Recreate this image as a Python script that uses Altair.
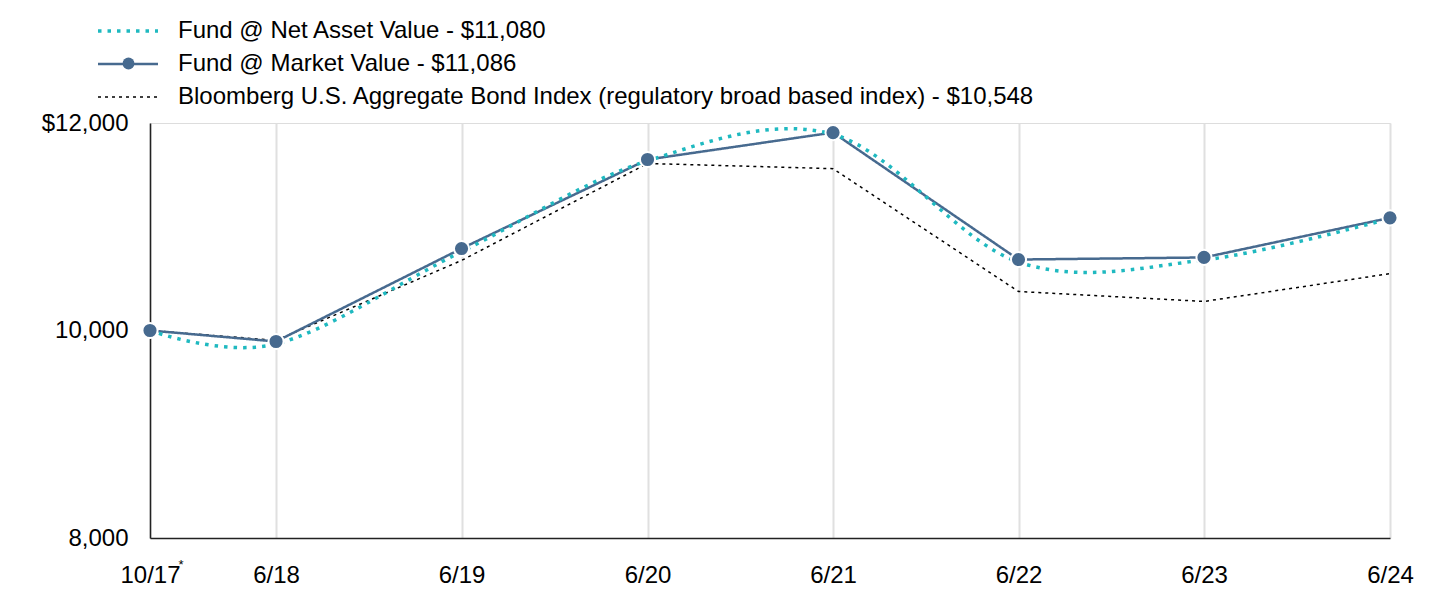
import altair as alt
import pandas as pd

dates = ["2017-10-25", "2018-06-30", "2019-06-30", "2020-06-30",
         "2021-06-30", "2022-06-30", "2023-06-30", "2024-06-30"]
nav = [10000, 9870, 10760, 11635, 11890, 10660, 10680, 11080]
mkt = [10000, 9894, 10790, 11648, 11908, 10684, 10704, 11086]
idx = [10000, 9905, 10675, 11610, 11560, 10376, 10280, 10548]

NAV = "Fund @ Net Asset Value - $11,080"
MKT = "Fund @ Market Value - $11,086"
IDX = "Bloomberg U.S. Aggregate Bond Index (regulatory broad based index) - $10,548"
series_names = [NAV, MKT, IDX]
series_colors = ["#1fb9c0", "#476a8f", "#000000"]
series_dash = [[3.5, 6], [1, 0], [3, 4]]
series_width = [3.5, 1.5, 1.5]

rows = []
for name, vals in [(NAV, nav), (MKT, mkt), (IDX, idx)]:
    for d, v in zip(dates, vals):
        rows.append({"date": d, "value": v, "series": name, "mk": "m"})
df = pd.DataFrame(rows)

FONT = "Liberation Sans"
FS = 24

x_enc = alt.X("date:T",
              scale=alt.Scale(domain=[dates[0], dates[-1]], nice=False, padding=0),
              axis=alt.Axis(values=dates, title=None, labelExpr="timeFormat(datum.value, '%-m/%y')",
                            grid=True, gridColor="#e0e0e0", gridWidth=2, ticks=False,
                            labelFlush=False, labelOverlap=False,
                            domainColor="#222222", domainWidth=1.5, labelFontSize=FS,
                            labelPadding=25, labelColor="#000000", labelFont=FONT))
y_enc = alt.Y("value:Q",
              scale=alt.Scale(domain=[8000, 12000], nice=False, zero=False),
              axis=alt.Axis(values=[8000, 10000, 12000], title=None, grid=False, ticks=False,
                            labelExpr="datum.value == 12000 ? '$12,000' : format(datum.value, ',')",
                            domainColor="#222222", domainWidth=1.5, labelFontSize=FS,
                            labelPadding=22, labelColor="#000000", labelFont=FONT))

legend = alt.Legend(
    title=None, orient="none", legendX=-39, legendY=-109, symbolType="M-2,0H2",
    symbolSize=900, labelFontSize=FS, labelColor="#000000", labelFont=FONT,
    labelOffset=33, rowPadding=4.5, padding=0, labelLimit=1200)

color_enc = alt.Color("series:N", scale=alt.Scale(domain=series_names, range=series_colors),
                      legend=legend)
dash_enc = alt.StrokeDash("series:N", scale=alt.Scale(domain=series_names, range=series_dash),
                          legend=legend)
width_enc = alt.StrokeWidth("series:N", scale=alt.Scale(domain=series_names, range=series_width),
                            legend=legend)

base = alt.Chart(df)

def line(name, **kw):
    return base.transform_filter(alt.datum.series == name).mark_line(**kw).encode(
        x=x_enc, y=y_enc, color=color_enc, strokeDash=dash_enc, strokeWidth=width_enc)

idx_line = line(IDX)
mkt_line = line(MKT)
nav_line = line(NAV, interpolate="cardinal")

mkt_pts = base.transform_filter(alt.datum.series == MKT).mark_point(
    size=230, opacity=1, filled=True, fill="#476a8f", stroke="#ffffff", strokeWidth=2).encode(
    x=x_enc, y=y_enc,
    shape=alt.Shape("mk:N", scale=alt.Scale(domain=["m"], range=["circle"]),
                    legend=alt.Legend(title=None, orient="none", legendX=-28, legendY=-66,
                                      symbolSize=140, symbolFillColor="#476a8f",
                                      symbolStrokeColor="#476a8f", symbolStrokeWidth=1,
                                      labelFontSize=1, labelOpacity=0, padding=0, zindex=1)))

star_df = pd.DataFrame({"date": [dates[0]], "value": [8000], "txt": ["*"], "mk": ["m"]})
star = alt.Chart(star_df).mark_text(fontSize=13, font=FONT, color="#000000", dx=31, dy=27,
                                   align="center", baseline="middle").encode(
    x=alt.X("date:T"), y=alt.Y("value:Q"), text="txt:N",
    opacity=alt.Opacity("mk:N", scale=alt.Scale(domain=["m"], range=[1]),
                        legend=alt.Legend(title=None, orient="none", legendX=-23.3, legendY=-61.3,
                                          symbolType="circle", symbolSize=7,
                                          symbolFillColor="#000000", symbolStrokeColor="#ffffff",
                                          symbolStrokeWidth=1.5, symbolOpacity=1,
                                          labelFontSize=1, labelOpacity=0, padding=0, zindex=2)))

chart = alt.layer(idx_line, mkt_line, nav_line, mkt_pts, star).properties(
    width=1240, height=415,
    autosize=alt.AutoSizeParams(type="none"),
    padding={"left": 142, "top": 115, "right": 38, "bottom": 64},
).configure_view(stroke=None).configure(font=FONT)

chart.save("out.html", embed_options={"renderer": "svg", "actions": False})
